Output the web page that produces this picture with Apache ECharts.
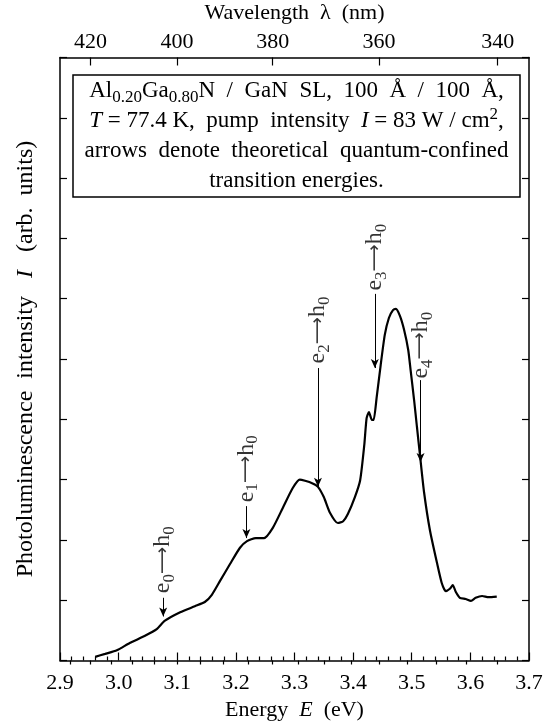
<!DOCTYPE html>
<html>
<head>
<meta charset="utf-8">
<script src="https://cdn.jsdelivr.net/npm/echarts@6/dist/echarts.min.js"></script>
<style>
  html, body { margin: 0; padding: 0; background: #fff; }
  #chart { width: 554px; height: 721px; }
</style>
</head>
<body>
<div id="chart"></div>
<script>
// photoluminescence spectrum
const energy = [2.960, 2.977, 2.997, 3.019, 3.045, 3.065, 3.079, 3.105, 3.130, 3.147, 3.159, 3.173, 3.190, 3.207,
    3.219, 3.234, 3.248, 3.263, 3.280, 3.297, 3.309, 3.318, 3.330, 3.340, 3.350, 3.360, 3.374, 3.383, 3.391,
    3.403, 3.412, 3.419, 3.423, 3.427, 3.432, 3.435, 3.440, 3.447, 3.454, 3.461, 3.468, 3.473, 3.480, 3.487,
    3.494, 3.498, 3.504, 3.509, 3.514, 3.521, 3.531, 3.543, 3.551, 3.558, 3.565, 3.570, 3.575, 3.582, 3.592,
    3.601, 3.609, 3.620, 3.631, 3.645];
const intensity = [0.06, 0.11, 0.17, 0.29, 0.41, 0.52, 0.66, 0.80, 0.90, 0.97, 1.09, 1.32, 1.60, 1.87,
    1.98, 2.03, 2.03, 2.20, 2.53, 2.86, 3.00, 2.98, 2.94, 2.88, 2.71, 2.46, 2.28, 2.31, 2.43,
    2.71, 2.99, 3.57, 4.02, 4.12, 3.99, 3.99, 4.35, 4.90, 5.40, 5.68, 5.81, 5.83, 5.71, 5.48,
    5.15, 4.82, 4.32, 3.86, 3.41, 2.79, 2.16, 1.62, 1.29, 1.15, 1.19, 1.25, 1.14, 1.04, 1.02,
    0.99, 1.04, 1.07, 1.05, 1.06];

// transition arrows e_n -> h_0
const arrowIndex = ["0", "1", "2", "3", "4"];
const arrowEnergy = [3.076, 3.218, 3.340, 3.437, 3.515];
const arrowTail = [1.04, 2.56, 4.85, 6.08, 4.65];
const arrowTip = [0.73, 2.03, 2.88, 4.85, 3.29];
const arrowLabelAt = [1.67, 3.18, 5.48, 6.69, 5.23];

// top axis (wavelength in nm)
const wavelengthLabels = [420, 400, 380, 360, 340];
const wavelengthTicks = [425, 420, 415, 410, 405, 400, 395, 390, 385, 380, 375, 370, 365, 360, 355, 350, 345, 340];
const HC = 1239.84;

const FONT = "Liberation Serif";
const black = "#000";

const lineData = energy.map((e, i) => [e, intensity[i]]);

const chart = echarts.init(document.getElementById("chart"), null, { renderer: "canvas" });

const baseAxis = {
    type: "value",
    min: 2.9,
    max: 3.7,
    splitLine: { show: false },
    axisLine: { show: true, onZero: false, lineStyle: { color: black, width: 1.5 } },
};

chart.setOption({
    backgroundColor: "#fff",
    animation: false,
    grid: { left: 60, right: 25, top: 57.5, bottom: 60.5, containLabel: false, outerBoundsMode: "none" },
    xAxis: [
        {
            ...baseAxis,
            position: "bottom",
            interval: 0.1,
            name: "Energy  {i|E}  (eV)",
            nameLocation: "middle",
            nameGap: 37,
            nameTextStyle: {
                color: black, fontFamily: FONT, fontSize: 22,
                rich: { i: { fontStyle: "italic", fontFamily: FONT, fontSize: 22, color: black } },
            },
            axisTick: { show: true, inside: true, length: 8, lineStyle: { color: black, width: 1.2 } },
            minorTick: { show: true, splitNumber: 5, length: 4, lineStyle: { color: black, width: 1.2 } },
            axisLabel: {
                color: black, fontFamily: FONT, fontSize: 22, margin: 12,
                formatter: v => v.toFixed(1),
            },
        },
        {
            ...baseAxis,
            position: "top",
            name: "Wavelength  λ  (nm)",
            nameLocation: "middle",
            nameMoveOverlap: false,
            nameGap: 33,
            nameTextStyle: { color: black, fontFamily: FONT, fontSize: 22 },
            axisTick: {
                show: true, inside: true, length: 8,
                customValues: wavelengthLabels.map(nm => HC / nm),
                lineStyle: { color: black, width: 1.2 },
            },
            axisLabel: {
                color: black, fontFamily: FONT, fontSize: 22, margin: 4,
                customValues: wavelengthLabels.map(nm => HC / nm),
                formatter: v => String(Math.round(HC / v)),
            },
        },
        {
            ...baseAxis,
            position: "top",
            axisLine: { show: false },
            axisLabel: { show: false },
            axisTick: {
                show: true, inside: true, length: 4,
                customValues: wavelengthTicks.map(nm => HC / nm),
                lineStyle: { color: black, width: 1.2 },
            },
        },
    ],
    yAxis: [
        {
            type: "value",
            position: "left",
            min: 0,
            max: 10,
            interval: 1,
            name: "Photoluminescence  intensity   {i|I}   (arb.  units)",
            nameLocation: "middle",
            nameGap: 22,
            nameTextStyle: {
                color: black, fontFamily: FONT, fontSize: 24,
                rich: { i: { fontStyle: "italic", fontFamily: FONT, fontSize: 24, color: black } },
            },
            splitLine: { show: false },
            axisLine: { show: true, onZero: false, lineStyle: { color: black, width: 1.5 } },
            axisTick: { show: true, inside: true, length: 7, lineStyle: { color: black, width: 1.2 } },
            axisLabel: { show: false },
        },
        {
            type: "value",
            position: "right",
            min: 0,
            max: 10,
            interval: 1,
            splitLine: { show: false },
            axisLine: { show: true, onZero: false, lineStyle: { color: black, width: 1.5 } },
            axisTick: { show: true, inside: true, length: 7, lineStyle: { color: black, width: 1.2 } },
            axisLabel: { show: false },
        },
    ],
    series: [
        {
            type: "line",
            xAxisIndex: 0,
            yAxisIndex: 0,
            data: lineData,
            showSymbol: false,
            smooth: 0.2,
            lineStyle: { color: black, width: 2.2 },
            markLine: {
                silent: true,
                symbol: ["none", "arrow"],
                symbolSize: [6, 9],
                label: { show: false },
                lineStyle: { color: black, width: 1, type: "solid" },
                data: arrowEnergy.map((e, i) => [
                    { coord: [e, arrowTail[i]] },
                    { coord: [e, arrowTip[i]] },
                ]),
            },
        },
        {
            type: "scatter",
            xAxisIndex: 0,
            yAxisIndex: 0,
            symbolSize: 0,
            silent: true,
            data: arrowEnergy.map((e, i) => [e, arrowLabelAt[i]]),
            label: {
                show: true,
                position: "inside",
                rotate: 90,
                formatter: p => `{t|e}{s|${arrowIndex[p.dataIndex]}}{a|⟶}{t|h}{s|0}`,
                rich: {
                    t: { fontFamily: FONT, fontSize: 24, color: black, lineHeight: 30 },
                    s: { fontFamily: FONT, fontSize: 17, color: black, verticalAlign: "bottom", lineHeight: 17 },
                    a: { fontFamily: "DejaVu Sans", fontSize: 19, color: black, lineHeight: 30 },
                },
            },
        },
    ],
    graphic: [
        {
            type: "rect",
            shape: { x: 73, y: 75, width: 447, height: 122 },
            style: { fill: "#fff", stroke: black, lineWidth: 1.5 },
            z: 10,
        },
        {
            type: "text",
            x: 296.5,
            y: 136,
            z: 11,
            style: {
                text: [
                    "{t|Al}{sub|0.20}{t|Ga}{sub|0.80}{t|N  /  GaN  SL,  100  Å  /  100  Å,}",
                    "{i|T}{t| = 77.4 K,  pump  intensity  }{i|I}{t| = 83 W / cm}{sup|2}{t|,}",
                    "{t|arrows  denote  theoretical  quantum-confined}",
                    "{t|transition energies.}",
                ].join("\n"),
                align: "center",
                verticalAlign: "middle",
                rich: {
                    t: { fontFamily: FONT, fontSize: 23, fill: black, lineHeight: 30 },
                    i: { fontFamily: FONT, fontSize: 23, fontStyle: "italic", fill: black, lineHeight: 30 },
                    sub: { fontFamily: FONT, fontSize: 17, fill: black, verticalAlign: "bottom", lineHeight: 17 },
                    sup: { fontFamily: FONT, fontSize: 17, fill: black, verticalAlign: "top", lineHeight: 17 },
                },
            },
        },
    ],
});
</script>
</body>
</html>
